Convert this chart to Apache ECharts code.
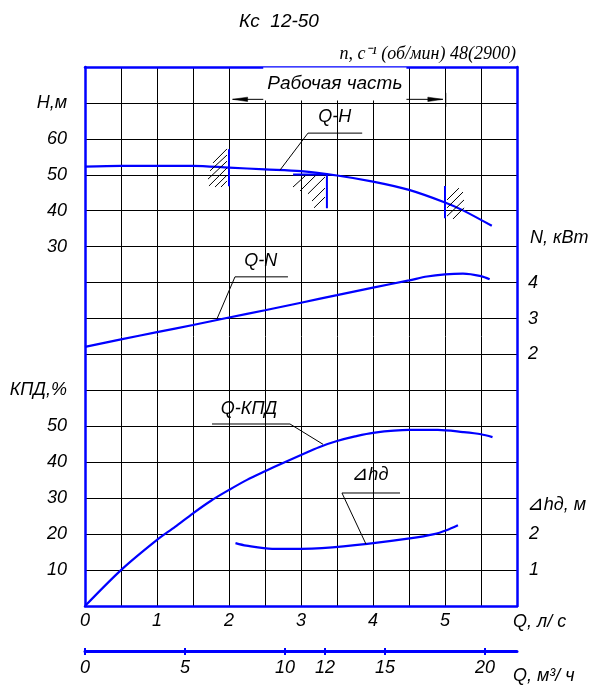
<!DOCTYPE html>
<html><head><meta charset="utf-8">
<script src="https://cdn.jsdelivr.net/npm/echarts@6/dist/echarts.min.js"></script>
<style>html,body{margin:0;padding:0;background:#fff}#c{width:601px;height:689px}</style>
</head><body><div id="c"></div>
<script>
// ---- data (Q in л/с) ----
const qTicksLs   = [0, 1, 2, 3, 4, 5];
const qTicksM3h  = [0, 5, 10, 12, 15, 20];
const hTickLabels   = [30, 40, 50, 60];
const nTickLabels   = [2, 3, 4];
const kpdTickLabels = [10, 20, 30, 40, 50];
const dhTickLabels  = [1, 2];

const qH   = [0, 0.5, 1, 1.5, 2, 2.5, 3, 3.5, 4, 4.5, 5, 5.25, 5.65];
const hVal = [52.3, 52.5, 52.5, 52.5, 52.0, 51.5, 51.0, 49.8, 48.1, 45.8, 42.3, 40.1, 35.8];

const qN   = [0, 0.5, 1, 1.5, 2, 2.5, 3, 3.5, 4, 4.5, 4.75, 5, 5.25, 5.5, 5.62];
const nVal = [2.21, 2.42, 2.62, 2.82, 3.03, 3.23, 3.44, 3.65, 3.86, 4.06, 4.17, 4.23, 4.25, 4.18, 4.09];

const qK   = [0, 0.5, 1, 1.25, 1.5, 1.75, 2, 2.25, 2.5, 2.75, 3, 3.25, 3.5, 3.75, 4, 4.5, 4.9, 5.25, 5.5, 5.66];
const kVal = [0, 10, 18.4, 22.0, 25.8, 29.3, 32.3, 35.1, 37.5, 39.8, 42.0, 44.2, 45.9, 47.2, 48.2, 49.0, 49.0, 48.4, 47.8, 47.0];

const qD   = [2.09, 2.24, 2.6, 3.0, 3.29, 3.92, 4.51, 4.85, 5.02, 5.18];
const dVal = [1.75, 1.68, 1.59, 1.59, 1.61, 1.73, 1.88, 2.0, 2.11, 2.25];

// ---- annotations, in data units (Q, axis value) ----
const workRange = [[2.05, 71.0], [4.97, 71.0]];
const workLabel = [3.47, 75.3];
const workExt   = [[5.01, 72.8], [5.01, 68.9]];
const rangeMarks = [
  [[2.0, 46.8], [2.0, 57.1]],
  [[2.89, 50.1], [3.36, 50.1], [3.36, 40.7]],
  [[5.0, 46.9], [5.0, 37.9]]
];
const hatchH = [
  [[1.778, 53.3], [1.972, 57.2]], [[1.736, 51.1], [1.972, 55.5]], [[1.708, 48.8], [1.972, 53.8]],
  [[1.722, 46.9], [1.972, 51.9]], [[1.806, 46.6], [1.972, 49.9]], [[1.889, 46.6], [1.972, 48.3]],
  [[2.889, 46.6], [3.069, 49.9]], [[2.986, 45.5], [3.208, 49.9]], [[3.097, 44.7], [3.333, 49.4]],
  [[3.153, 42.7], [3.333, 46.3]], [[3.181, 40.8], [3.333, 43.8]],
  [[5.028, 43.0], [5.194, 46.3]], [[5.028, 40.8], [5.25, 45.2]], [[5.028, 38.5], [5.264, 43.0]],
  [[5.111, 37.7], [5.264, 40.8]]
];
const leaderH = [[2.708, 51.3], [3.097, 61.6], [3.85, 61.6]];
const leaderN = [[1.833, 2.99], [2.083, 4.16], [2.819, 4.16]];
const leaderK = [[3.306, 45.0], [2.847, 50.65], [1.764, 50.65]];
const leaderD = [[3.903, 1.72], [3.569, 3.145], [4.375, 3.145]];
const labelH = {text: 'Q-H', at: [3.47, 66.1]};
const labelN = {text: 'Q-N', at: [2.44, 4.60]};
const labelK = {text: 'Q-КПД', at: [2.278, 54.8]};
const labelD = {text: '{t|⊿}hд', at: [3.958, 3.646]};

// ---- styling ----
const BLUE = '#0000ff';
const SANS = '"Liberation Sans", Arial, sans-serif';
const FONT = 'italic 18px ' + SANS;
const SERIF = '"Liberation Serif", "Times New Roman", serif';
const TRI = {t: {font: '20px "DejaVu Sans", sans-serif', fill: '#000'}};

function annoSeries(yAxisIndex, items) {
  return {
    type: 'custom', xAxisIndex: 0, yAxisIndex: yAxisIndex, clip: false, silent: true, z: 4,
    data: items.map(it => it.at ? it.at : it.pts[0]),
    renderItem: function (params, api) {
      const it = items[params.dataIndex];
      if (it.pts) {
        const pts = it.pts.map(p => api.coord(p));
        const children = [{type: 'polyline', shape: {points: pts},
          style: {stroke: it.stroke, lineWidth: it.lw, fill: null}}];
        if (it.arrows) {
          const ends = [[pts[0], pts[1]], [pts[pts.length - 1], pts[pts.length - 2]]];
          ends.forEach(([tip, prev]) => {
            const dx = tip[0] - prev[0], dy = tip[1] - prev[1];
            const len = Math.hypot(dx, dy) || 1;
            const ux = dx / len, uy = dy / len, L = 15, W = 2.2;
            children.push({type: 'polygon', shape: {points: [
              tip, [tip[0] - ux * L - uy * W, tip[1] - uy * L + ux * W],
              [tip[0] - ux * L + uy * W, tip[1] - uy * L - ux * W]]},
              style: {fill: '#000', stroke: '#000', lineWidth: 0.5}});
          });
        }
        return {type: 'group', children: children};
      }
      const c = api.coord(it.at);
      return {type: 'text', x: c[0], y: c[1], z2: 10,
        style: {text: it.text, font: it.font || FONT, fill: '#000', align: 'center', rich: TRI,
          verticalAlign: 'middle', backgroundColor: it.bg, padding: it.pad}};
    }
  };
}

const itemsH = [];
hatchH.forEach(s => itemsH.push({pts: s, stroke: '#000', lw: 1}));
rangeMarks.forEach(s => itemsH.push({pts: s, stroke: BLUE, lw: 2}));
itemsH.push({pts: leaderH, stroke: '#000', lw: 1});
itemsH.push({text: labelH.text, at: labelH.at});
itemsH.push({text: 'Рабочая часть', at: workLabel, font: 'italic 19px ' + SANS, bg: '#fff', pad: [7, 4, 7, 4]});
itemsH.push({pts: workRange, stroke: '#000', lw: 1, arrows: true});
itemsH.push({pts: workExt, stroke: '#000', lw: 1});

const itemsN = [{pts: leaderN, stroke: '#000', lw: 1}, {text: labelN.text, at: labelN.at}];
const itemsK = [{pts: leaderK, stroke: '#000', lw: 1}, {text: labelK.text, at: labelK.at}];
const itemsD = [{pts: leaderD, stroke: '#000', lw: 1}, {text: labelD.text, at: labelD.at}];

function curve(qs, vs, yIdx) {
  return {type: 'line', xAxisIndex: 0, yAxisIndex: yIdx, data: qs.map((q, i) => [q, vs[i]]),
    smooth: 0.3, symbol: 'none', z: 3, silent: true,
    lineStyle: {color: BLUE, width: 2.2}};
}

const splitBlack = {show: true, lineStyle: {color: '#000', width: 1}, showMinLine: false, showMaxLine: false};
const lbl = {fontFamily: SANS, fontStyle: 'italic', fontSize: 18, color: '#000'};

const chart = echarts.init(document.getElementById('c'), null, {renderer: 'canvas'});
chart.setOption({
  animation: false,
  backgroundColor: '#fff',
  grid: [
    {left: 85, right: 84, top: 67, height: 539},
    {left: 85, right: 84, top: 650, height: 1}
  ],
  xAxis: [
    {gridIndex: 0, type: 'value', min: 0, max: 6, interval: 0.5, position: 'bottom',
     axisLine: {show: true, onZero: false, lineStyle: {color: BLUE, width: 2.5}},
     axisTick: {show: false}, splitLine: splitBlack,
     axisLabel: Object.assign({margin: 6, formatter: v => qTicksLs.includes(v) ? String(v) : ''}, lbl)},
    {gridIndex: 0, type: 'value', min: 0, max: 6, position: 'top',
     axisLine: {show: true, onZero: false, lineStyle: {color: BLUE, width: 2.5}},
     axisTick: {show: false}, splitLine: {show: false}, axisLabel: {show: false}},
    {gridIndex: 1, type: 'value', min: 0, max: 21.6, position: 'bottom',
     axisLine: {show: true, onZero: false, lineStyle: {color: BLUE, width: 3}},
     axisTick: {show: true, customValues: qTicksM3h, length: 4, lineStyle: {color: BLUE, width: 2}},
     splitLine: {show: false},
     axisLabel: Object.assign({margin: 8, customValues: qTicksM3h, formatter: v => String(v)}, lbl)},
    {gridIndex: 1, type: 'value', min: 0, max: 21.6, position: 'bottom',
     axisLine: {show: false},
     axisTick: {show: true, inside: true, customValues: qTicksM3h, length: 3, lineStyle: {color: BLUE, width: 2}},
     splitLine: {show: false}, axisLabel: {show: false}}
  ],
  yAxis: [
    {gridIndex: 0, type: 'value', min: -70, max: 80, interval: 10, position: 'left',
     axisLine: {show: true, onZero: false, lineStyle: {color: BLUE, width: 2.5}},
     axisTick: {show: false}, splitLine: splitBlack,
     axisLabel: Object.assign({margin: 18, formatter: v => hTickLabels.includes(v) ? String(v) : (v === 70 ? 'Н,м' : '')}, lbl)},
    {gridIndex: 0, type: 'value', min: 0, max: 150, interval: 10, position: 'left',
     axisLine: {show: false}, axisTick: {show: false}, splitLine: {show: false},
     axisLabel: Object.assign({margin: 18, formatter: v => kpdTickLabels.includes(v) ? String(v) : (v === 60 ? 'КПД,%' : '')}, lbl)},
    {gridIndex: 0, type: 'value', min: -5, max: 10, interval: 1, position: 'right',
     axisLine: {show: true, onZero: false, lineStyle: {color: BLUE, width: 2.5}},
     axisTick: {show: false}, splitLine: {show: false},
     axisLabel: Object.assign({margin: 11, formatter: v => nTickLabels.includes(v) ? String(v) : ''}, lbl)},
    {gridIndex: 0, type: 'value', min: 0, max: 15, interval: 1, position: 'right',
     axisLine: {show: false}, axisTick: {show: false}, splitLine: {show: false},
     axisLabel: Object.assign({margin: 12, padding: [6, 0, 0, 0], formatter: v => dhTickLabels.includes(v) ? String(v) : ''}, lbl)},
    {gridIndex: 1, type: 'value', min: 0, max: 1, show: false}
  ],
  graphic: [
    {type: 'text', x: 279, y: 22, style: {text: 'Кс  12-50', font: 'italic 19px ' + SANS, fill: '#000', align: 'center', verticalAlign: 'middle'}},
    {type: 'text', x: 516, y: 54, style: {text: 'n, c⁻¹ (об/мин) 48(2900)', font: 'italic 18px ' + SERIF, fill: '#000', align: 'right', verticalAlign: 'middle'}},
    {type: 'text', x: 530, y: 238, style: {text: 'N, кВт', font: FONT, fill: '#000', align: 'left', verticalAlign: 'middle'}},
    {type: 'text', x: 527, y: 505, style: {text: '{t|⊿}hд, м', rich: TRI, font: FONT, fill: '#000', align: 'left', verticalAlign: 'middle'}},
    {type: 'text', x: 513, y: 622, style: {text: 'Q, л/ с', font: FONT, fill: '#000', align: 'left', verticalAlign: 'middle'}},
    {type: 'text', x: 513, y: 676, style: {text: 'Q, м³/ ч', font: FONT, fill: '#000', align: 'left', verticalAlign: 'middle'}}
  ],
  series: [
    curve(qH, hVal, 0),
    curve(qN, nVal, 2),
    curve(qK, kVal, 1),
    curve(qD, dVal, 3),
    annoSeries(0, itemsH),
    annoSeries(2, itemsN),
    annoSeries(1, itemsK),
    annoSeries(3, itemsD)
  ]
});
</script>
</body></html>
